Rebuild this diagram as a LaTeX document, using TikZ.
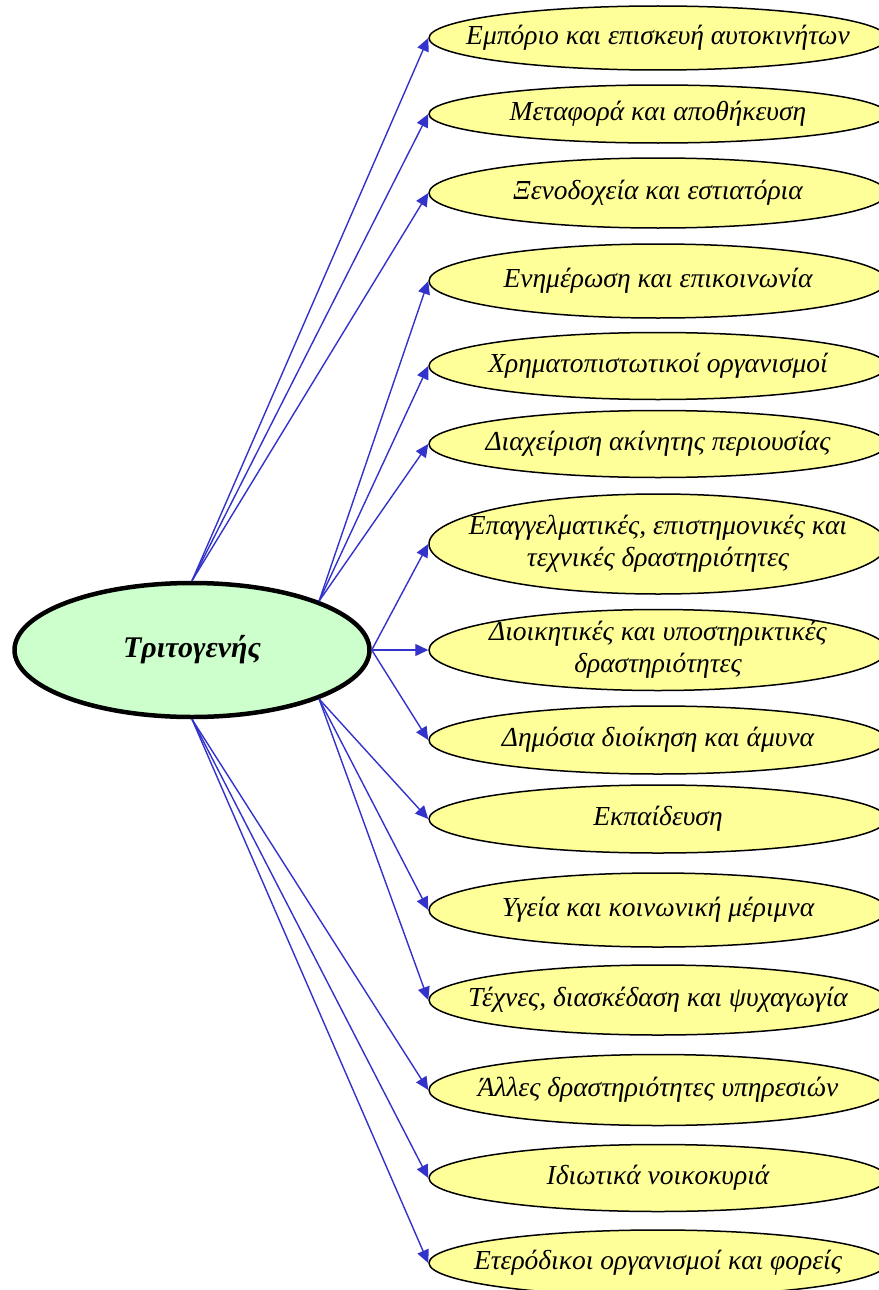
\documentclass[tikz,border=0pt]{standalone}
\usepackage{fontspec}
\setmainfont{Liberation Serif}
\usetikzlibrary{shapes.geometric,arrows.meta}

\definecolor{sectorgreen}{HTML}{CCFFCC}
\definecolor{branchyellow}{HTML}{FFFF99}
\definecolor{branchblue}{HTML}{3333CC}

\begin{document}
\begin{tikzpicture}[x=1pt,y=-1pt,line join=round,
  sector/.style={ellipse,draw=black,line width=4.5pt,fill=sectorgreen,
    minimum width=355pt,minimum height=134pt,inner sep=0pt,
    font=\fontsize{30}{34}\selectfont\itshape\bfseries},
  branch/.style={ellipse,draw=black,line width=1.5pt,fill=branchyellow,
    minimum width=458pt,inner xsep=-80pt,inner ysep=0pt,align=center,
    font=\fontsize{27.5}{32}\selectfont\itshape},
  link/.style={draw=branchblue,line width=1.4pt,
    -{Triangle[length=13pt,width=12pt]}}]
  % Keep the frame of the original artwork.
  \useasboundingbox (0,0) rectangle (878,1290);

  % Central sector.
  \node[sector] (sec) at (192,650) {Τριτογενής};

  % Branches, top to bottom.
  \node[branch,minimum height=64pt] (b1) at (658,38) {Εμπόριο και επισκευή αυτοκινήτων};
  \node[branch,minimum height=58pt] (b2) at (658,114) {Μεταφορά και αποθήκευση};
  \node[branch,minimum height=70pt] (b3) at (658,193) {Ξενοδοχεία και εστιατόρια};
  \node[branch,minimum height=74pt] (b4) at (658,281) {Ενημέρωση και επικοινωνία};
  \node[branch,minimum height=67pt] (b5) at (658,366) {Χρηματοπιστωτικοί οργανισμοί};
  \node[branch,minimum height=67pt] (b6) at (658,444) {Διαχείριση ακίνητης περιουσίας};
  \node[branch,minimum height=100pt] (b7) at (658,544) {Επαγγελματικές, επιστημονικές και\\τεχνικές δραστηριότητες};
  \node[branch,minimum height=81pt] (b8) at (658,650) {Διοικητικές και υποστηρικτικές\\δραστηριότητες};
  \node[branch,minimum height=68pt] (b9) at (658,740) {Δημόσια διοίκηση και άμυνα};
  \node[branch,minimum height=68pt] (b10) at (658,819) {Εκπαίδευση};
  \node[branch,minimum height=74pt] (b11) at (658,910) {Υγεία και κοινωνική μέριμνα};
  \node[branch,minimum height=70pt] (b12) at (658,1000) {Τέχνες, διασκέδαση και ψυχαγωγία};
  \node[branch,minimum height=71pt] (b13) at (658,1090) {Άλλες δραστηριότητες υπηρεσιών};
  \node[branch,minimum height=67pt] (b14) at (658,1178) {Ιδιωτικά νοικοκυριά};
  \node[branch,minimum height=66pt] (b15) at (658,1263) {Ετερόδικοι οργανισμοί και φορείς};

  % Arrows leave the sector from five points of its outline.
  \foreach \b in {1,2,3} \draw[link] (sec.north) -- (b\b.west);
  \foreach \b in {4,5,6} \draw[link] (sec.north east) -- (b\b.west);
  \foreach \b in {7,8,9} \draw[link] (sec.east) -- (b\b.west);
  \foreach \b in {10,11,12} \draw[link] (sec.south east) -- (b\b.west);
  \foreach \b in {13,14,15} \draw[link] (sec.south) -- (b\b.west);
\end{tikzpicture}
\end{document}
